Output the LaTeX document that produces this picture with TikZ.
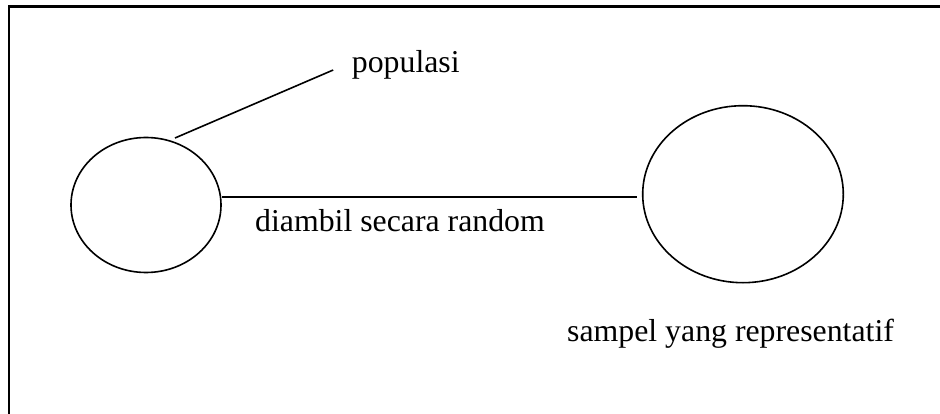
\documentclass[tikz,border=0pt]{standalone}
\usepackage{fontspec}
\setmainfont{Liberation Serif}
\usetikzlibrary{shapes.geometric,calc}
\tikzset{
  circ/.style={draw, ellipse, inner sep=0pt, line width=1.6pt},
  lbl/.style={anchor=base west, inner sep=0pt, font=\fontsize{31.8}{38}\selectfont},
  conn/.style={line width=1.6pt},
  frame/.style={line width=2.4pt}
}
\begin{document}
\begin{tikzpicture}[x=1pt, y=-1pt]
  \useasboundingbox (0,0) rectangle (940,414);
  % open frame: top and left edges
  \draw[frame] (9,414) -- (9,6.7) -- (940,6.7);
  % population and sample
  \node[circ, minimum width=150pt, minimum height=135pt] (pop) at (146,205) {};
  \node[circ, minimum width=200.6pt, minimum height=177pt] (samp) at (743,194.2) {};
  % labels
  \node[lbl] (lblpop) at (351.7,73) {populasi};
  \node[lbl] (lblrand) at (255,232) {diambil secara random};
  \node[lbl] (lblsamp) at (567,341) {sampel yang representatif};
  % connectors
  \draw[conn] ($(pop.center)+(29,-67)$) -- ($(lblpop.base west)+(-18.5,-3)$);
  \draw[conn] ($(pop.east)+(0,-8)$) -- ($(samp.west)+(-5,2.8)$);
\end{tikzpicture}
\end{document}
